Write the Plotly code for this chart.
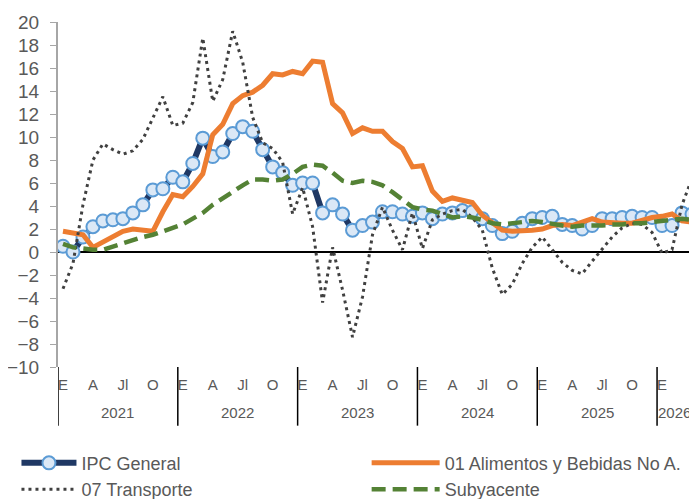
import plotly.graph_objects as go

# Jan 2021 .. Apr 2026, one value per month
month_labels = ["E", "A", "Jl", "O"]
years = ["2021", "2022", "2023", "2024", "2025", "2026"]

ipc_general = [
    0.5, 0.0, 1.3, 2.2, 2.7, 2.8, 2.9, 3.4, 4.1, 5.4, 5.5, 6.5,
    6.1, 7.7, 9.9, 8.3, 8.7, 10.3, 10.9, 10.5, 8.9, 7.4, 6.9, 5.8,
    6.0, 6.0, 3.4, 4.1, 3.3, 1.9, 2.3, 2.6, 3.5, 3.5, 3.3, 3.1,
    3.4, 2.9, 3.3, 3.4, 3.6, 3.5, 2.9, 2.3, 1.6, 1.8, 2.5, 2.9,
    3.0, 3.1, 2.4, 2.3, 2.0, 2.3, 2.9, 2.9, 3.0, 3.1, 3.0, 3.0,
    2.3, 2.3, 3.4, 3.3,
]
alimentos = [
    1.8, 1.65, 1.5, 0.4, 0.9, 1.3, 1.8, 2.0, 1.9, 1.8, 3.5, 5.0,
    4.8, 5.7, 6.8, 10.2, 11.1, 12.9, 13.6, 13.9, 14.5, 15.5, 15.4, 15.7,
    15.5, 16.6, 16.5, 12.9, 12.1, 10.3, 10.8, 10.5, 10.5, 9.6, 9.0, 7.4,
    7.5, 5.3, 4.4, 4.7, 4.5, 4.3, 3.2, 2.5, 1.9, 1.8, 1.8, 1.9,
    2.0, 2.3, 2.4, 2.3, 2.6, 2.9, 2.6, 2.5, 2.5, 2.5, 2.8, 3.0,
    3.1, 3.3, 2.7, 2.6,
]
transporte = [
    -3.2, -1.0, 4.1, 8.0, 9.4, 8.9, 8.5, 8.8, 9.8, 11.7, 13.5, 11.0,
    11.2, 13.0, 18.6, 13.1, 15.0, 19.2, 16.5, 11.7, 9.5, 9.0, 7.8, 3.3,
    5.6, 2.2, -4.4, 0.4, -3.3, -7.4, -3.9, 1.5, 3.9, 1.9, 0.2, 3.4,
    0.3, 2.8, 3.3, 3.6, 3.7, 3.0, 1.9, -1.4, -3.7, -2.8, -1.0, 0.4,
    1.3, 0.2, -0.9, -1.6, -1.9, -0.8, 0.3, 1.3, 2.1, 2.5, 2.4, 1.7,
    -0.1, 0.2, 4.1, 6.4,
]
subyacente = [
    0.7, 0.4, 0.3, 0.2, 0.2, 0.5, 0.7, 1.0, 1.3, 1.5, 1.8, 2.1,
    2.4, 2.9, 3.4, 4.1, 4.7, 5.3, 5.8, 6.3, 6.3, 6.2, 6.3, 6.8,
    7.4, 7.6, 7.5, 6.9, 6.2, 6.0, 6.2, 6.1, 5.8, 5.2, 4.6, 3.9,
    3.7, 3.6, 3.3, 3.0, 3.1, 3.0, 2.8, 2.5, 2.4, 2.5, 2.6, 2.7,
    2.6, 2.4, 2.3, 2.2, 2.3, 2.3, 2.3, 2.4, 2.4, 2.5, 2.5, 2.6,
    2.7, 2.8, 2.9, 2.8,
]

x = list(range(len(ipc_general)))
font = "Liberation Sans, Arial, sans-serif"
grey = "#595959"

fig = go.Figure()

fig.add_trace(go.Scatter(
    x=x, y=ipc_general, mode="lines+markers", name="IPC General",
    line=dict(color="#1f3864", width=6),
    marker=dict(size=13, color="#dbe8f6", line=dict(color="#5b9bd5", width=2)),
    legend="legend",
))
fig.add_trace(go.Scatter(
    x=x, y=alimentos, mode="lines", name="01 Alimentos y Bebidas No A.",
    line=dict(color="#ed7d31", width=5),
    legend="legend2",
))
fig.add_trace(go.Scatter(
    x=x, y=transporte, mode="lines", name="07 Transporte",
    line=dict(color="#404040", width=3, dash="3px,4px"),
    legend="legend",
))
fig.add_trace(go.Scatter(
    x=x, y=subyacente, mode="lines", name="Subyacente",
    line=dict(color="#548235", width=4.5, dash="14px,7px"),
    legend="legend2",
))

tickvals = list(range(0, len(x), 3))
ticktext = [month_labels[i % 4] for i in range(len(tickvals))]

shapes = []
for k in range(len(years)):
    shapes.append(dict(
        type="line", xref="x", yref="paper",
        x0=-0.5 + 12 * k, x1=-0.5 + 12 * k, y0=0, y1=-0.17,
        line=dict(color="black", width=1.5),
    ))

annotations = []
for k, yr in enumerate(years):
    start = 12 * k
    end = min(start + 11, len(x) - 1)
    annotations.append(dict(
        x=min((start + end) / 2, 61.2), y=-0.133, xref="x", yref="paper",
        text=yr, showarrow=False, yanchor="middle",
        font=dict(size=15, color=grey, family=font),
    ))

legend_style = dict(
    orientation="v", y=-0.225, xanchor="left", yanchor="top",
    font=dict(size=18, color=grey), tracegroupgap=0,
    bgcolor="rgba(0,0,0,0)",
)

# the page body adds an 8px margin, so the figure is 8px smaller than the window
fig.update_layout(
    width=689, height=491,
    margin=dict(l=50, r=0, t=14, b=132, autoexpand=False),
    paper_bgcolor="white", plot_bgcolor="white",
    font=dict(family=font, color=grey),
    shapes=shapes, annotations=annotations,
    legend=dict(x=-0.065, itemwidth=55, **legend_style),
    legend2=dict(x=0.483, itemwidth=68, **legend_style),
    xaxis=dict(
        range=[-0.5, 63.5], tickvals=tickvals, ticktext=ticktext,
        showgrid=False, zeroline=False, showline=False, ticks="",
        tickfont=dict(size=15, color=grey), ticklabelstandoff=7,
    ),
    yaxis=dict(
        range=[-10, 20], dtick=2, showgrid=False,
        zeroline=True, zerolinecolor="black", zerolinewidth=2,
        showline=True, linecolor="#a6a6a6", linewidth=2,
        ticks="outside", ticklen=6, tickcolor="#a6a6a6",
        tickfont=dict(size=19, color=grey), ticklabelstandoff=7,
    ),
)

fig.write_html("out.html")
